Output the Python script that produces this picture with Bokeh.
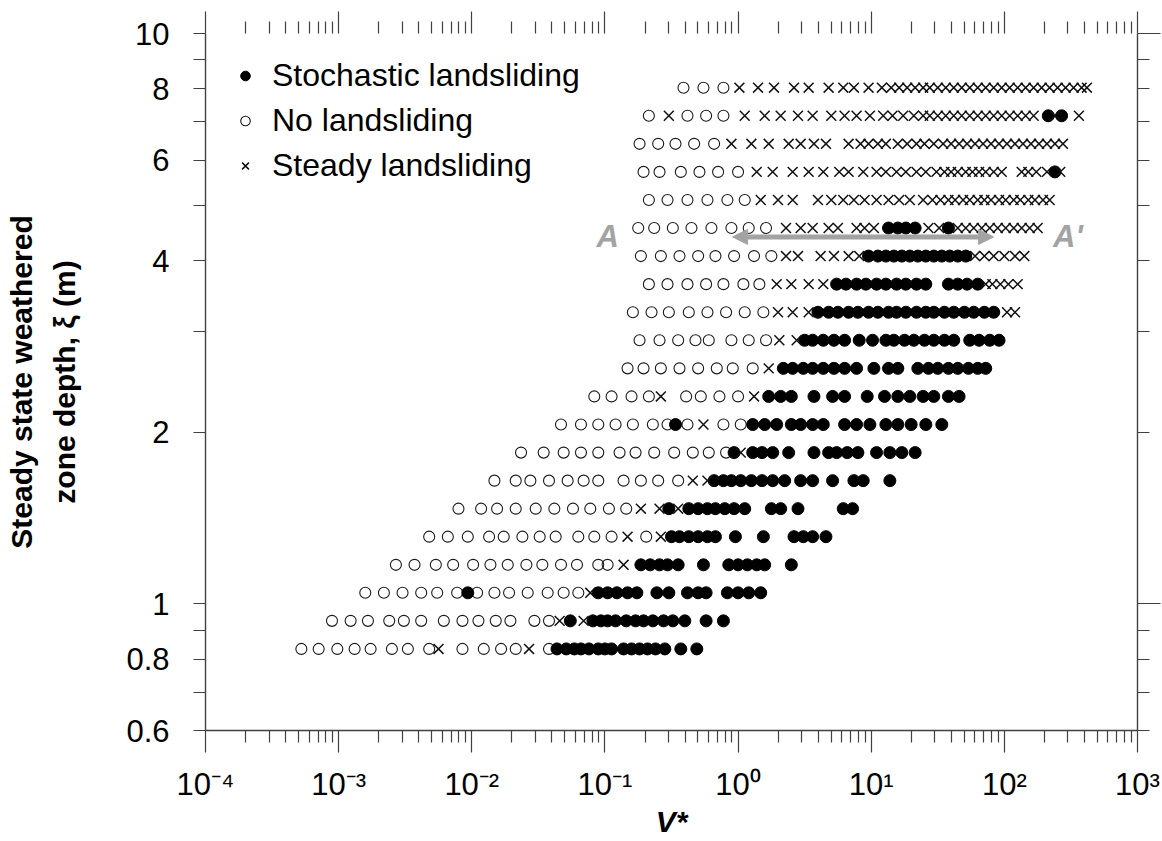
from bokeh.plotting import figure
from bokeh.models import (LogAxis, FixedTicker, Legend, LegendItem, Label,
                          Arrow, NormalHead, ColumnDataSource)
from bokeh.embed import file_html
from bokeh.resources import INLINE

# Steady state weathered zone depth of each simulated row (m)
depth = [0.834, 0.934, 1.046, 1.171, 1.312, 1.469, 1.645, 1.842, 2.063, 2.311,
         2.588, 2.899, 3.246, 3.636, 4.072, 4.560, 5.107, 5.720, 6.406, 7.174, 8.035]

# Per row: log10(V*) of every run and its outcome
# o = no landsliding, f = stochastic landsliding, x = steady landsliding
log_v00 = [-3.28, -3.15, -3.01, -2.88, -2.76, -2.60, -2.48, -2.32, -2.25, -2.07, -1.91, -1.78,
           -1.67, -1.57, -1.42, -1.36, -1.29, -1.23, -1.18, -1.12, -1.05, -1.00, -0.95, -0.86,
           -0.80, -0.74, -0.68, -0.62, -0.55, -0.43, -0.31]
kind_00 = "ooooooooxooooxo" + "ffffffffffffffff"

log_v01 = [-3.05, -2.91, -2.78, -2.62, -2.51, -2.38, -2.21, -2.07, -1.95, -1.82, -1.71, -1.53,
           -1.42, -1.34, -1.26, -1.16, -1.09, -1.03, -0.98, -0.92, -0.84, -0.77, -0.71, -0.64,
           -0.56, -0.49, -0.40, -0.24, -0.11]
kind_01 = "ooooooooooooo" + "xfx" + "fffffffffffff"

log_v02 = [-2.80, -2.66, -2.52, -2.38, -2.26, -2.11, -2.03, -1.96, -1.83, -1.72, -1.58, -1.43,
           -1.31, -1.20, -1.11, -1.05, -0.98, -0.91, -0.83, -0.76, -0.61, -0.52, -0.38, -0.30,
           -0.24, -0.08, 0.00, 0.08, 0.17]
kind_02 = "oooooofoooooooxffffffffffffff"

log_v03 = [-2.57, -2.43, -2.27, -2.14, -1.99, -1.86, -1.73, -1.59, -1.47, -1.33, -1.21, -1.05,
           -0.98, -0.86, -0.73, -0.66, -0.59, -0.53, -0.45, -0.26, -0.07, 0.00, 0.07, 0.14,
           0.20, 0.40]
kind_03 = "ooooooooooooo" + "x" + "ffffffffffff"

log_v04 = [-2.32, -2.18, -2.03, -1.87, -1.76, -1.62, -1.49, -1.37, -1.20, -1.08, -0.95, -0.83,
           -0.69, -0.58, -0.50, -0.44, -0.37, -0.30, -0.23, -0.17, -0.02, 0.19, 0.42, 0.49,
           0.56, 0.66]
kind_04 = "oooooooooooxox" + "ffffffffffff"

log_v05 = [-2.10, -1.93, -1.81, -1.67, -1.52, -1.38, -1.24, -1.11, -0.97, -0.84, -0.73, -0.59,
           -0.52, -0.45, -0.37, -0.30, -0.23, -0.17, -0.10, -0.03, 0.05, 0.25, 0.32, 0.45,
           0.79, 0.86]
kind_05 = "ooooooooooxxfx" + "ffffffffffff"

log_v06 = [-1.83, -1.67, -1.56, -1.42, -1.28, -1.16, -1.05, -0.86, -0.73, -0.60, -0.45, -0.34,
           -0.23, -0.18, -0.11, -0.05, 0.02, 0.10, 0.18, 0.26, 0.35, 0.47, 0.56, 0.71,
           0.87, 0.94, 1.14]
kind_06 = "ooooooooooo" + "xx" + "ffffffffffffff"

log_v07 = [-1.63, -1.46, -1.31, -1.18, -1.05, -0.89, -0.77, -0.63, -0.48, -0.34, -0.22, -0.09,
           -0.03, 0.02, 0.11, 0.18, 0.26, 0.38, 0.57, 0.68, 0.74, 0.82, 0.90, 1.04,
           1.14, 1.23, 1.33]
kind_07 = "oooooooooooo" + "fx" + "fffffffffffff"

log_v08 = [-1.33, -1.18, -1.05, -0.92, -0.79, -0.64, -0.53, -0.47, -0.38, -0.26, -0.11, 0.02,
           0.11, 0.20, 0.29, 0.40, 0.47, 0.56, 0.64, 0.80, 0.89, 0.99, 1.11, 1.20,
           1.30, 1.41, 1.53]
kind_08 = "ooooooofoxoo" + "fffffffffffffff"

log_v09 = [-1.08, -0.95, -0.80, -0.67, -0.58, -0.39, -0.28, -0.14, 0.00, 0.12, 0.23, 0.32,
           0.40, 0.57, 0.71, 0.80, 0.97, 1.10, 1.20, 1.29, 1.39, 1.47, 1.58, 1.66]
kind_09 = "ooooxoooox" + "ffffffffffffff"

log_v10 = [-0.83, -0.71, -0.58, -0.44, -0.30, -0.16, -0.04, 0.11, 0.23, 0.34, 0.41, 0.49,
           0.56, 0.64, 0.72, 0.80, 0.89, 1.02, 1.13, 1.20, 1.35, 1.43, 1.50, 1.58,
           1.65, 1.73, 1.80, 1.86]
kind_10 = "oooooooox" + "fffffffffffffffffff"

log_v11 = [-0.74, -0.59, -0.45, -0.32, -0.22, -0.05, 0.08, 0.21, 0.31, 0.44, 0.50, 0.56,
           0.64, 0.72, 0.80, 0.91, 1.01, 1.11, 1.17, 1.25, 1.32, 1.40, 1.47, 1.55,
           1.62, 1.74, 1.81, 1.89, 1.96]
kind_11 = "ooooooooxx" + "fffffffffffffffffff"

log_v12 = [-0.79, -0.65, -0.52, -0.37, -0.23, -0.09, 0.05, 0.19, 0.30, 0.41, 0.53, 0.60,
           0.68, 0.75, 0.83, 0.90, 0.98, 1.05, 1.13, 1.19, 1.26, 1.34, 1.41, 1.47,
           1.55, 1.62, 1.70, 1.77, 1.85, 1.92, 2.02, 2.08]
kind_12 = "ooooooooxxx" + "fffffffffffffffffff" + "xx"

log_v13 = [-0.67, -0.53, -0.38, -0.24, -0.11, 0.04, 0.16, 0.29, 0.40, 0.53, 0.64, 0.74,
           0.81, 0.89, 0.96, 1.04, 1.11, 1.19, 1.26, 1.34, 1.41, 1.58, 1.65, 1.72,
           1.80, 1.86, 1.91, 1.97, 2.03, 2.10]
kind_13 = "oooooooxxxx" + "ffffffffffffff" + "xxxxx"

log_v14 = [-0.73, -0.58, -0.44, -0.30, -0.17, -0.03, 0.12, 0.25, 0.36, 0.45, 0.62, 0.72,
           0.83, 0.91, 0.98, 1.05, 1.11, 1.17, 1.23, 1.29, 1.35, 1.41, 1.47, 1.53,
           1.59, 1.65, 1.71, 1.78, 1.85, 1.92, 2.00, 2.08, 2.15]
kind_14 = "oooooooo" + "xxxxxx" + "fffffffffffff" + "xxxxxx"

log_v15 = [-0.75, -0.63, -0.49, -0.35, -0.20, -0.05, 0.08, 0.21, 0.36, 0.47, 0.56, 0.68,
           0.75, 0.89, 0.95, 1.02, 1.13, 1.20, 1.26, 1.33, 1.43, 1.51, 1.58, 1.65,
           1.71, 1.77, 1.83, 1.89, 1.95, 2.01, 2.07, 2.13, 2.19, 2.25]
kind_15 = "oooooooo" + "xxxxxxxx" + "ffff" + "xx" + "f" + "xxxxxxxxxxx"

log_v16 = [-0.67, -0.53, -0.38, -0.23, -0.08, 0.05, 0.17, 0.30, 0.41, 0.60, 0.70, 0.79,
           0.87, 0.95, 1.04, 1.13, 1.21, 1.29, 1.39, 1.46, 1.52, 1.58, 1.63, 1.69,
           1.74, 1.80, 1.85, 1.90, 1.96, 2.01, 2.07, 2.12, 2.18, 2.23, 2.29, 2.34]
kind_16 = "oooooo" + "x" * 30

log_v17 = [-0.71, -0.59, -0.43, -0.29, -0.15, 0.00, 0.14, 0.26, 0.41, 0.53, 0.64, 0.76,
           0.83, 0.94, 1.04, 1.11, 1.19, 1.26, 1.34, 1.41, 1.49, 1.55, 1.60, 1.65,
           1.71, 1.76, 1.81, 1.86, 1.92, 1.98, 2.13, 2.18, 2.24, 2.32, 2.38, 2.42]
kind_17 = "oooooo" + "x" * 28 + "fx"

log_v18 = [-0.74, -0.60, -0.47, -0.33, -0.18, -0.05, 0.10, 0.23, 0.38, 0.47, 0.57, 0.66,
           0.83, 0.92, 0.98, 1.05, 1.11, 1.20, 1.27, 1.34, 1.40, 1.47, 1.54, 1.60,
           1.66, 1.72, 1.78, 1.84, 1.90, 1.96, 2.02, 2.08, 2.14, 2.20, 2.26, 2.32,
           2.38, 2.44]
kind_18 = "ooooo" + "x" * 33

log_v19 = [-0.67, -0.52, -0.38, -0.24, -0.11, 0.05, 0.20, 0.32, 0.45, 0.56, 0.70, 0.80,
           0.89, 0.99, 1.09, 1.16, 1.24, 1.32, 1.39, 1.44, 1.50, 1.56, 1.62, 1.68,
           1.74, 1.80, 1.86, 1.92, 1.98, 2.04, 2.10, 2.16, 2.22, 2.33, 2.38, 2.43,
           2.56]
kind_19 = "oxooo" + "x" * 28 + "fxfx"

log_v20 = [-0.41, -0.26, -0.11, 0.01, 0.15, 0.27, 0.42, 0.53, 0.68, 0.79, 0.87, 0.98,
           1.08, 1.15, 1.21, 1.27, 1.33, 1.39, 1.44, 1.50, 1.56, 1.62, 1.68, 1.74,
           1.80, 1.86, 1.92, 1.98, 2.04, 2.10, 2.16, 2.22, 2.28, 2.34, 2.40, 2.46,
           2.52, 2.58, 2.62]
kind_20 = "ooo" + "x" * 36

row_logs = [log_v00, log_v01, log_v02, log_v03, log_v04, log_v05, log_v06, log_v07,
            log_v08, log_v09, log_v10, log_v11, log_v12, log_v13, log_v14, log_v15,
            log_v16, log_v17, log_v18, log_v19, log_v20]
row_kinds = [kind_00, kind_01, kind_02, kind_03, kind_04, kind_05, kind_06, kind_07,
             kind_08, kind_09, kind_10, kind_11, kind_12, kind_13, kind_14, kind_15,
             kind_16, kind_17, kind_18, kind_19, kind_20]

# Axis ticks
x_decades = [1e-4, 1e-3, 1e-2, 1e-1, 1.0, 10.0, 100.0, 1000.0]
x_labels = ["10⁻⁴", "10⁻³", "10⁻²", "10⁻¹", "10⁰", "10¹", "10²", "10³"]
y_ticks = [0.6, 0.8, 1.0, 2.0, 4.0, 6.0, 8.0, 10.0]
y_labels = ["0.6", "0.8", "1", "2", "4", "6", "8", "10"]
y_minor = [0.7, 0.9, 3.0, 5.0, 7.0, 9.0]

# Sort runs by outcome
groups = {"o": ([], []), "f": ([], []), "x": ([], [])}
for d, logs, kinds in zip(depth, row_logs, row_kinds):
    assert len(logs) == len(kinds)
    for lv, k in zip(logs, kinds):
        groups[k][0].append(10 ** lv)
        groups[k][1].append(d)

FONT = "Liberation Sans"
AXIS_COLOR = "#404040"

p = figure(width=1162, height=841, x_axis_type="log", y_axis_type="log",
           x_range=(1e-4, 1e3), y_range=(0.6, 10),
           output_backend="svg", toolbar_location=None,
           min_border_left=205, min_border_right=25,
           min_border_top=33, min_border_bottom=111)
p.outline_line_color = None
p.xgrid.visible = False
p.ygrid.visible = False
p.background_fill_color = "white"
p.border_fill_color = "white"

src_o = ColumnDataSource(dict(x=groups["o"][0], y=groups["o"][1]))
src_f = ColumnDataSource(dict(x=groups["f"][0], y=groups["f"][1]))
src_x = ColumnDataSource(dict(x=groups["x"][0], y=groups["x"][1]))

r_o = p.scatter("x", "y", source=src_o, marker="circle", size=11,
                fill_color=None, line_color="#1a1a1a", line_width=1.1)
r_f = p.scatter("x", "y", source=src_f, marker="circle", size=12,
                fill_color="black", line_color="black", line_width=1)
r_x = p.scatter("x", "y", source=src_x, marker="x", size=14,
                line_color="#111111", line_width=1.5)


def style_axis(ax, tick_len_major, tick_len_minor):
    ax.axis_line_color = AXIS_COLOR
    ax.axis_line_width = 1.4
    ax.major_tick_line_color = AXIS_COLOR
    ax.minor_tick_line_color = AXIS_COLOR
    ax.major_tick_line_width = 1.2
    ax.minor_tick_line_width = 1.2
    ax.major_tick_in = 0
    ax.minor_tick_in = 0
    ax.major_tick_out = tick_len_major
    ax.minor_tick_out = tick_len_minor
    ax.major_label_text_font = FONT
    ax.major_label_text_font_size = "31px"
    ax.major_label_text_color = "black"


x_minor = [m * d for d in x_decades[:-1] for m in range(2, 10)]

# bottom axis
xb = p.xaxis[0]
xb.ticker = FixedTicker(ticks=x_decades, minor_ticks=x_minor)
xb.major_label_overrides = dict(zip(x_decades, x_labels))
style_axis(xb, 22, 12)
xb.major_label_standoff = 14
xb.axis_label = "V*"
xb.axis_label_text_font = FONT
xb.axis_label_text_font_size = "30px"
xb.axis_label_text_font_style = "bold italic"
xb.axis_label_text_color = "black"
xb.axis_label_standoff = 0

# left axis
yl = p.yaxis[0]
yl.ticker = FixedTicker(ticks=y_ticks, minor_ticks=y_minor)
yl.major_label_overrides = dict(zip(y_ticks, y_labels))
style_axis(yl, 12, 12)
yl.major_label_standoff = 24
yl.axis_label = "Steady state weathered\nzone depth, ξ (m)"
yl.axis_label_text_font = FONT
yl.axis_label_text_font_size = "30px"
yl.axis_label_text_font_style = "bold"
yl.axis_label_text_color = "black"
yl.axis_label_text_line_height = 1.33
yl.axis_label_standoff = 42

# top axis: ticks only
xt = LogAxis(ticker=FixedTicker(ticks=x_decades, minor_ticks=x_minor))
style_axis(xt, 22, 12)
xt.axis_line_color = None
xt.major_label_text_font_size = "0px"
xt.major_label_standoff = 0
xt.major_label_overrides = {v: "" for v in x_decades}
p.add_layout(xt, "above")

# right axis: ticks only
yr_minor = [0.6, 0.7, 0.8, 0.9, 2.0, 3.0, 4.0, 5.0, 6.0, 7.0, 8.0, 9.0]
yr = LogAxis(ticker=FixedTicker(ticks=[1.0, 10.0], minor_ticks=yr_minor))
style_axis(yr, 23, 12)
yr.major_label_text_font_size = "0px"
yr.major_label_standoff = 0
yr.major_label_overrides = {1.0: "", 10.0: ""}
p.add_layout(yr, "right")

# A - A' transect
GREY = "#a3a3a3"
p.add_layout(Arrow(x_start=0.91, y_start=4.40, x_end=83.0, y_end=4.40,
                   line_color=GREY, line_width=5,
                   start=NormalHead(size=15, fill_color=GREY, line_color=GREY),
                   end=NormalHead(size=15, fill_color=GREY, line_color=GREY)))
for txt, xv in (("A", 0.105), ("A'", 300.0)):
    p.add_layout(Label(x=xv, y=4.40, text=txt, text_align="center",
                       text_baseline="middle", text_font=FONT,
                       text_font_size="31px", text_font_style="bold italic",
                       text_color=GREY))

legend = Legend(items=[
    LegendItem(label="Stochastic landsliding", renderers=[r_f]),
    LegendItem(label="No landsliding", renderers=[r_o]),
    LegendItem(label="Steady landsliding", renderers=[r_x]),
], location=(28, 546))
legend.label_text_font = FONT
legend.label_text_font_size = "32px"
legend.label_text_color = "black"
legend.glyph_width = 24
legend.glyph_height = 37
legend.label_height = 37
legend.spacing = 8
legend.padding = 0
legend.margin = 0
legend.label_standoff = 15
legend.border_line_color = None
legend.background_fill_alpha = 0
p.add_layout(legend)

open("out.html", "w").write(file_html(p, INLINE))
